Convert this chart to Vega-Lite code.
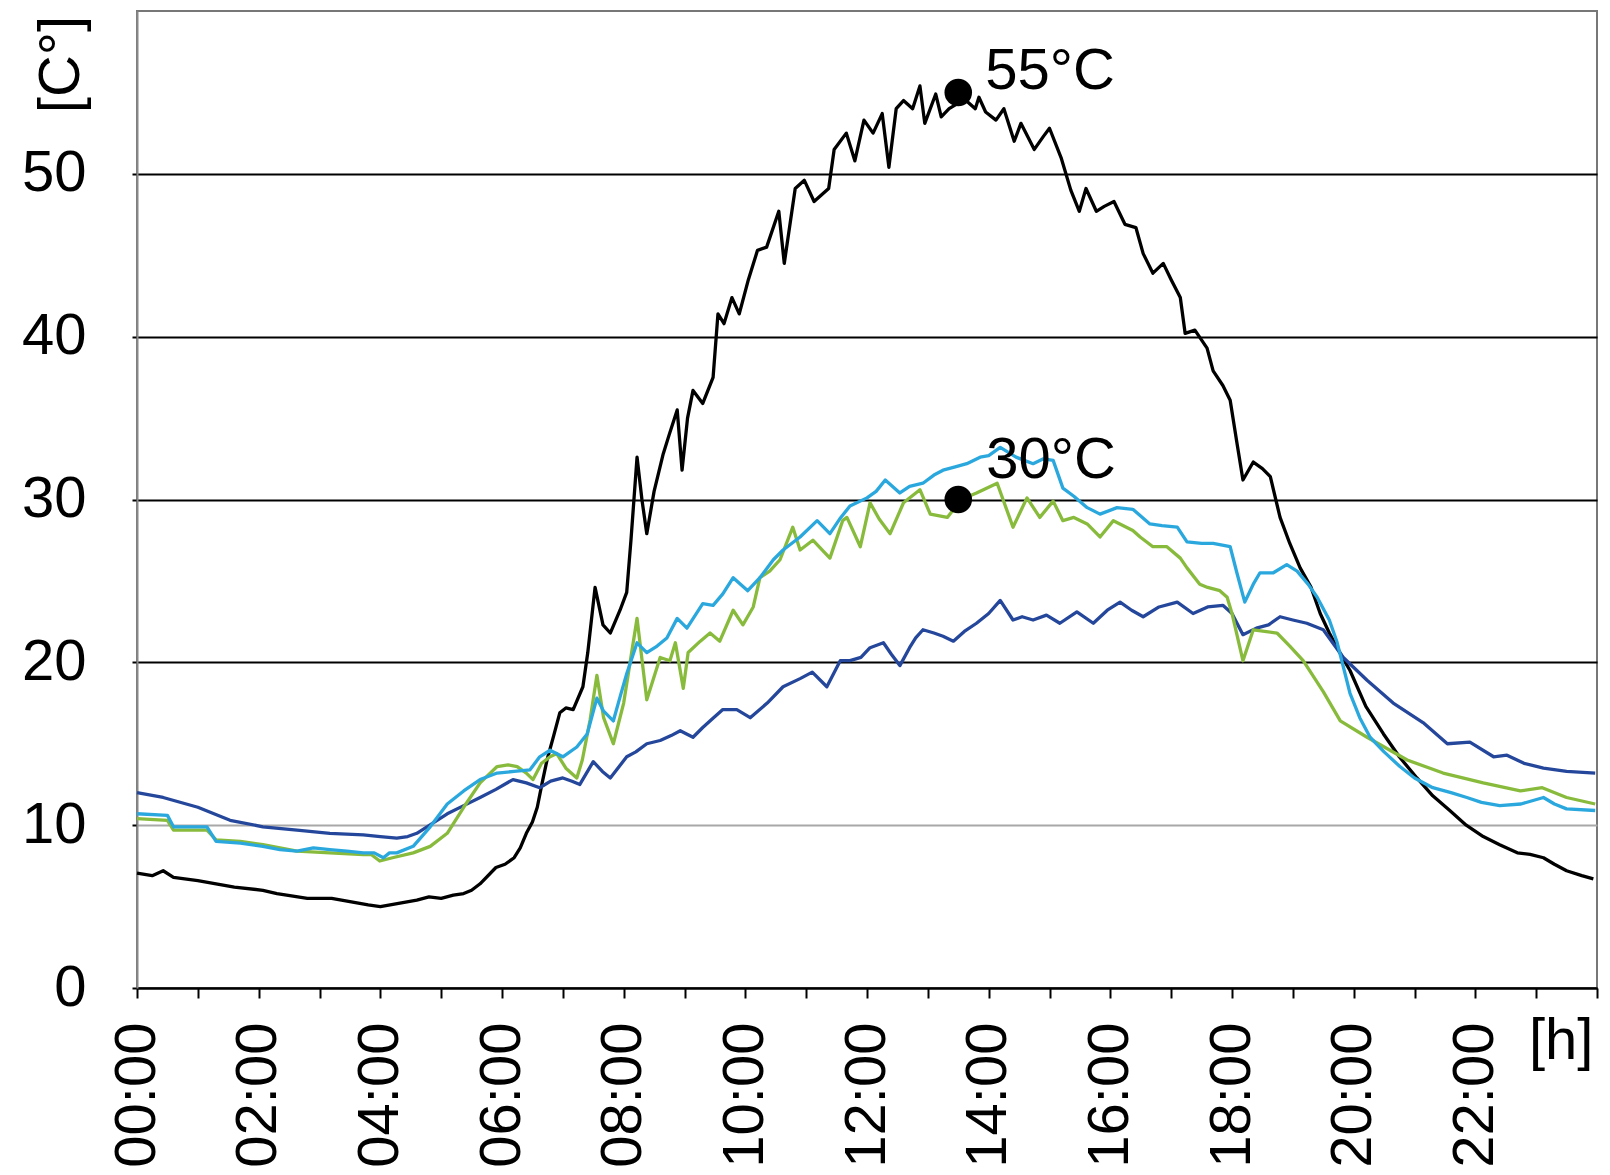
{
  "$schema": "https://vega.github.io/schema/vega-lite/v6.json",
  "width": 1460,
  "height": 977,
  "autosize": {"type": "none"},
  "padding": {"left": 137, "top": 11, "right": 13, "bottom": 187},
  "background": "white",
  "config": {
    "font": "Liberation Sans",
    "view": {"stroke": "#777777", "strokeWidth": 2}
  },
  "datasets": {
    "lines": [
      {"s":"B","h":0,"v":7.05},{"s":"B","h":0.25,"v":6.9},{"s":"B","h":0.43,"v":7.2},{"s":"B","h":0.6,"v":6.8},{"s":"B","h":1,"v":6.6},{"s":"B","h":1.3,"v":6.4},{"s":"B","h":1.6,"v":6.2},{"s":"B","h":2.07,"v":6.0},{"s":"B","h":2.3,"v":5.8},{"s":"B","h":2.46,"v":5.7},{"s":"B","h":2.8,"v":5.5},{"s":"B","h":3.2,"v":5.5},{"s":"B","h":3.5,"v":5.3},{"s":"B","h":3.8,"v":5.1},{"s":"B","h":4.0,"v":5.0},{"s":"B","h":4.3,"v":5.2},{"s":"B","h":4.6,"v":5.4},{"s":"B","h":4.8,"v":5.6},{"s":"B","h":5.0,"v":5.5},{"s":"B","h":5.2,"v":5.7},{"s":"B","h":5.37,"v":5.8},{"s":"B","h":5.5,"v":6.0},{"s":"B","h":5.64,"v":6.4},{"s":"B","h":5.9,"v":7.4},{"s":"B","h":6.05,"v":7.6},{"s":"B","h":6.2,"v":8.0},{"s":"B","h":6.3,"v":8.6},{"s":"B","h":6.4,"v":9.5},{"s":"B","h":6.5,"v":10.2},{"s":"B","h":6.58,"v":11.1},{"s":"B","h":6.66,"v":12.6},{"s":"B","h":6.74,"v":14.0},{"s":"B","h":6.85,"v":15.5},{"s":"B","h":6.95,"v":16.9},{"s":"B","h":7.05,"v":17.2},{"s":"B","h":7.17,"v":17.1},{"s":"B","h":7.33,"v":18.5},{"s":"B","h":7.41,"v":20.6},{"s":"B","h":7.53,"v":24.6},{"s":"B","h":7.66,"v":22.3},{"s":"B","h":7.78,"v":21.8},{"s":"B","h":7.94,"v":23.2},{"s":"B","h":8.05,"v":24.3},{"s":"B","h":8.12,"v":27.5},{"s":"B","h":8.22,"v":32.6},{"s":"B","h":8.3,"v":30.0},{"s":"B","h":8.38,"v":27.9},{"s":"B","h":8.5,"v":30.5},{"s":"B","h":8.65,"v":32.8},{"s":"B","h":8.75,"v":34.0},{"s":"B","h":8.88,"v":35.5},{"s":"B","h":8.96,"v":31.8},{"s":"B","h":9.05,"v":35.0},{"s":"B","h":9.14,"v":36.7},{"s":"B","h":9.3,"v":35.9},{"s":"B","h":9.47,"v":37.5},{"s":"B","h":9.55,"v":41.4},{"s":"B","h":9.65,"v":40.8},{"s":"B","h":9.78,"v":42.4},{"s":"B","h":9.9,"v":41.4},{"s":"B","h":10.05,"v":43.5},{"s":"B","h":10.2,"v":45.3},{"s":"B","h":10.35,"v":45.5},{"s":"B","h":10.55,"v":47.7},{"s":"B","h":10.64,"v":44.5},{"s":"B","h":10.82,"v":49.1},{"s":"B","h":10.97,"v":49.6},{"s":"B","h":11.13,"v":48.3},{"s":"B","h":11.37,"v":49.1},{"s":"B","h":11.46,"v":51.5},{"s":"B","h":11.66,"v":52.5},{"s":"B","h":11.8,"v":50.8},{"s":"B","h":11.95,"v":53.3},{"s":"B","h":12.1,"v":52.5},{"s":"B","h":12.25,"v":53.7},{"s":"B","h":12.36,"v":50.4},{"s":"B","h":12.48,"v":54.0},{"s":"B","h":12.6,"v":54.5},{"s":"B","h":12.75,"v":54.0},{"s":"B","h":12.87,"v":55.4},{"s":"B","h":12.95,"v":53.1},{"s":"B","h":13.13,"v":54.9},{"s":"B","h":13.22,"v":53.5},{"s":"B","h":13.35,"v":54.0},{"s":"B","h":13.48,"v":54.3},{"s":"B","h":13.6,"v":54.6},{"s":"B","h":13.78,"v":54.0},{"s":"B","h":13.84,"v":54.7},{"s":"B","h":13.95,"v":53.8},{"s":"B","h":14.12,"v":53.3},{"s":"B","h":14.25,"v":54.0},{"s":"B","h":14.42,"v":52.0},{"s":"B","h":14.53,"v":53.1},{"s":"B","h":14.75,"v":51.5},{"s":"B","h":14.9,"v":52.3},{"s":"B","h":15.0,"v":52.8},{"s":"B","h":15.19,"v":51.0},{"s":"B","h":15.35,"v":49.0},{"s":"B","h":15.49,"v":47.7},{"s":"B","h":15.6,"v":49.1},{"s":"B","h":15.77,"v":47.7},{"s":"B","h":15.9,"v":48.0},{"s":"B","h":16.06,"v":48.3},{"s":"B","h":16.24,"v":46.9},{"s":"B","h":16.42,"v":46.7},{"s":"B","h":16.54,"v":45.1},{"s":"B","h":16.7,"v":43.9},{"s":"B","h":16.87,"v":44.5},{"s":"B","h":17.0,"v":43.5},{"s":"B","h":17.15,"v":42.4},{"s":"B","h":17.23,"v":40.2},{"s":"B","h":17.39,"v":40.4},{"s":"B","h":17.59,"v":39.3},{"s":"B","h":17.69,"v":37.9},{"s":"B","h":17.85,"v":37.0},{"s":"B","h":17.97,"v":36.1},{"s":"B","h":18.08,"v":33.5},{"s":"B","h":18.18,"v":31.2},{"s":"B","h":18.35,"v":32.3},{"s":"B","h":18.5,"v":31.9},{"s":"B","h":18.63,"v":31.4},{"s":"B","h":18.79,"v":28.9},{"s":"B","h":18.95,"v":27.3},{"s":"B","h":19.12,"v":25.8},{"s":"B","h":19.3,"v":24.6},{"s":"B","h":19.45,"v":23.0},{"s":"B","h":19.6,"v":21.8},{"s":"B","h":19.83,"v":20.2},{"s":"B","h":19.94,"v":19.5},{"s":"B","h":20.2,"v":17.3},{"s":"B","h":20.49,"v":15.6},{"s":"B","h":20.75,"v":14.2},{"s":"B","h":21.04,"v":12.9},{"s":"B","h":21.3,"v":11.8},{"s":"B","h":21.58,"v":10.9},{"s":"B","h":21.85,"v":10.0},{"s":"B","h":22.13,"v":9.3},{"s":"B","h":22.4,"v":8.8},{"s":"B","h":22.69,"v":8.3},{"s":"B","h":22.9,"v":8.2},{"s":"B","h":23.12,"v":8.0},{"s":"B","h":23.3,"v":7.6},{"s":"B","h":23.5,"v":7.2},{"s":"B","h":23.75,"v":6.9},{"s":"B","h":23.94,"v":6.7},
      {"s":"N","h":0,"v":12.0},{"s":"N","h":0.43,"v":11.7},{"s":"N","h":1,"v":11.1},{"s":"N","h":1.53,"v":10.3},{"s":"N","h":2.07,"v":9.9},{"s":"N","h":2.63,"v":9.7},{"s":"N","h":3.17,"v":9.5},{"s":"N","h":3.72,"v":9.4},{"s":"N","h":4.0,"v":9.3},{"s":"N","h":4.27,"v":9.2},{"s":"N","h":4.45,"v":9.3},{"s":"N","h":4.6,"v":9.5},{"s":"N","h":4.85,"v":10.1},{"s":"N","h":5.1,"v":10.7},{"s":"N","h":5.37,"v":11.2},{"s":"N","h":5.64,"v":11.7},{"s":"N","h":5.9,"v":12.2},{"s":"N","h":6.18,"v":12.8},{"s":"N","h":6.4,"v":12.6},{"s":"N","h":6.62,"v":12.3},{"s":"N","h":6.8,"v":12.7},{"s":"N","h":7.0,"v":12.9},{"s":"N","h":7.15,"v":12.7},{"s":"N","h":7.28,"v":12.5},{"s":"N","h":7.5,"v":13.9},{"s":"N","h":7.65,"v":13.3},{"s":"N","h":7.78,"v":12.9},{"s":"N","h":8.05,"v":14.2},{"s":"N","h":8.2,"v":14.5},{"s":"N","h":8.38,"v":15.0},{"s":"N","h":8.6,"v":15.2},{"s":"N","h":8.78,"v":15.5},{"s":"N","h":8.93,"v":15.8},{"s":"N","h":9.14,"v":15.4},{"s":"N","h":9.3,"v":16.0},{"s":"N","h":9.45,"v":16.5},{"s":"N","h":9.63,"v":17.1},{"s":"N","h":9.86,"v":17.1},{"s":"N","h":10.08,"v":16.6},{"s":"N","h":10.36,"v":17.5},{"s":"N","h":10.62,"v":18.5},{"s":"N","h":10.9,"v":19.0},{"s":"N","h":11.1,"v":19.4},{"s":"N","h":11.34,"v":18.5},{"s":"N","h":11.56,"v":20.1},{"s":"N","h":11.72,"v":20.1},{"s":"N","h":11.9,"v":20.3},{"s":"N","h":12.05,"v":20.9},{"s":"N","h":12.27,"v":21.2},{"s":"N","h":12.4,"v":20.5},{"s":"N","h":12.54,"v":19.8},{"s":"N","h":12.7,"v":20.9},{"s":"N","h":12.8,"v":21.5},{"s":"N","h":12.92,"v":22.0},{"s":"N","h":13.1,"v":21.8},{"s":"N","h":13.25,"v":21.6},{"s":"N","h":13.42,"v":21.3},{"s":"N","h":13.6,"v":21.9},{"s":"N","h":13.8,"v":22.4},{"s":"N","h":14.0,"v":23.0},{"s":"N","h":14.19,"v":23.8},{"s":"N","h":14.4,"v":22.6},{"s":"N","h":14.55,"v":22.8},{"s":"N","h":14.73,"v":22.6},{"s":"N","h":14.95,"v":22.9},{"s":"N","h":15.17,"v":22.4},{"s":"N","h":15.45,"v":23.1},{"s":"N","h":15.72,"v":22.4},{"s":"N","h":15.95,"v":23.2},{"s":"N","h":16.16,"v":23.7},{"s":"N","h":16.35,"v":23.2},{"s":"N","h":16.54,"v":22.8},{"s":"N","h":16.8,"v":23.4},{"s":"N","h":17.1,"v":23.7},{"s":"N","h":17.36,"v":23.0},{"s":"N","h":17.6,"v":23.4},{"s":"N","h":17.85,"v":23.5},{"s":"N","h":18.0,"v":23.0},{"s":"N","h":18.18,"v":21.7},{"s":"N","h":18.4,"v":22.1},{"s":"N","h":18.6,"v":22.3},{"s":"N","h":18.79,"v":22.8},{"s":"N","h":19.0,"v":22.6},{"s":"N","h":19.23,"v":22.4},{"s":"N","h":19.5,"v":22.0},{"s":"N","h":19.83,"v":20.3},{"s":"N","h":20.22,"v":18.9},{"s":"N","h":20.65,"v":17.5},{"s":"N","h":21.14,"v":16.3},{"s":"N","h":21.54,"v":15.0},{"s":"N","h":21.91,"v":15.1},{"s":"N","h":22.3,"v":14.2},{"s":"N","h":22.52,"v":14.3},{"s":"N","h":22.8,"v":13.8},{"s":"N","h":23.12,"v":13.5},{"s":"N","h":23.5,"v":13.3},{"s":"N","h":23.97,"v":13.2},
      {"s":"G","h":0,"v":10.4},{"s":"G","h":0.5,"v":10.3},{"s":"G","h":0.6,"v":9.7},{"s":"G","h":1.15,"v":9.7},{"s":"G","h":1.3,"v":9.1},{"s":"G","h":1.7,"v":9.0},{"s":"G","h":2.07,"v":8.8},{"s":"G","h":2.63,"v":8.4},{"s":"G","h":3.17,"v":8.3},{"s":"G","h":3.72,"v":8.2},{"s":"G","h":3.85,"v":8.2},{"s":"G","h":3.99,"v":7.8},{"s":"G","h":4.2,"v":8.0},{"s":"G","h":4.54,"v":8.3},{"s":"G","h":4.82,"v":8.7},{"s":"G","h":5.1,"v":9.5},{"s":"G","h":5.37,"v":11.1},{"s":"G","h":5.64,"v":12.6},{"s":"G","h":5.92,"v":13.6},{"s":"G","h":6.1,"v":13.7},{"s":"G","h":6.25,"v":13.6},{"s":"G","h":6.4,"v":13.2},{"s":"G","h":6.51,"v":12.8},{"s":"G","h":6.65,"v":13.8},{"s":"G","h":6.79,"v":14.2},{"s":"G","h":6.9,"v":14.4},{"s":"G","h":7.05,"v":13.5},{"s":"G","h":7.23,"v":12.9},{"s":"G","h":7.32,"v":14.0},{"s":"G","h":7.45,"v":16.5},{"s":"G","h":7.56,"v":19.2},{"s":"G","h":7.67,"v":16.6},{"s":"G","h":7.83,"v":15.0},{"s":"G","h":8.0,"v":17.5},{"s":"G","h":8.22,"v":22.7},{"s":"G","h":8.38,"v":17.7},{"s":"G","h":8.6,"v":20.3},{"s":"G","h":8.76,"v":20.1},{"s":"G","h":8.85,"v":21.2},{"s":"G","h":8.98,"v":18.4},{"s":"G","h":9.06,"v":20.6},{"s":"G","h":9.26,"v":21.3},{"s":"G","h":9.42,"v":21.8},{"s":"G","h":9.58,"v":21.3},{"s":"G","h":9.8,"v":23.2},{"s":"G","h":9.96,"v":22.3},{"s":"G","h":10.13,"v":23.4},{"s":"G","h":10.24,"v":25.2},{"s":"G","h":10.4,"v":25.6},{"s":"G","h":10.57,"v":26.3},{"s":"G","h":10.78,"v":28.3},{"s":"G","h":10.9,"v":26.9},{"s":"G","h":11.11,"v":27.5},{"s":"G","h":11.39,"v":26.4},{"s":"G","h":11.6,"v":28.7},{"s":"G","h":11.67,"v":28.9},{"s":"G","h":11.89,"v":27.1},{"s":"G","h":12.05,"v":29.8},{"s":"G","h":12.2,"v":28.8},{"s":"G","h":12.38,"v":27.9},{"s":"G","h":12.6,"v":29.8},{"s":"G","h":12.87,"v":30.6},{"s":"G","h":13.04,"v":29.1},{"s":"G","h":13.32,"v":28.9},{"s":"G","h":13.55,"v":30.0},{"s":"G","h":13.8,"v":30.4},{"s":"G","h":14.14,"v":31.0},{"s":"G","h":14.4,"v":28.3},{"s":"G","h":14.63,"v":30.1},{"s":"G","h":14.84,"v":28.9},{"s":"G","h":15.06,"v":29.9},{"s":"G","h":15.22,"v":28.7},{"s":"G","h":15.4,"v":28.9},{"s":"G","h":15.62,"v":28.5},{"s":"G","h":15.83,"v":27.7},{"s":"G","h":16.05,"v":28.7},{"s":"G","h":16.37,"v":28.1},{"s":"G","h":16.49,"v":27.7},{"s":"G","h":16.7,"v":27.1},{"s":"G","h":16.93,"v":27.1},{"s":"G","h":17.15,"v":26.4},{"s":"G","h":17.26,"v":25.8},{"s":"G","h":17.47,"v":24.8},{"s":"G","h":17.6,"v":24.6},{"s":"G","h":17.8,"v":24.4},{"s":"G","h":17.92,"v":24.0},{"s":"G","h":18.0,"v":23.0},{"s":"G","h":18.18,"v":20.1},{"s":"G","h":18.35,"v":22.0},{"s":"G","h":18.74,"v":21.8},{"s":"G","h":18.95,"v":21.0},{"s":"G","h":19.17,"v":20.1},{"s":"G","h":19.5,"v":18.2},{"s":"G","h":19.78,"v":16.4},{"s":"G","h":20.22,"v":15.4},{"s":"G","h":20.88,"v":14.0},{"s":"G","h":21.47,"v":13.2},{"s":"G","h":22.13,"v":12.6},{"s":"G","h":22.74,"v":12.1},{"s":"G","h":23.1,"v":12.3},{"s":"G","h":23.5,"v":11.7},{"s":"G","h":23.97,"v":11.3},
      {"s":"L","h":0,"v":10.7},{"s":"L","h":0.5,"v":10.6},{"s":"L","h":0.6,"v":9.9},{"s":"L","h":1.15,"v":9.9},{"s":"L","h":1.3,"v":9.0},{"s":"L","h":1.7,"v":8.9},{"s":"L","h":2.07,"v":8.7},{"s":"L","h":2.35,"v":8.5},{"s":"L","h":2.63,"v":8.4},{"s":"L","h":2.9,"v":8.6},{"s":"L","h":3.17,"v":8.5},{"s":"L","h":3.45,"v":8.4},{"s":"L","h":3.72,"v":8.3},{"s":"L","h":3.9,"v":8.3},{"s":"L","h":4.05,"v":8.0},{"s":"L","h":4.15,"v":8.3},{"s":"L","h":4.27,"v":8.3},{"s":"L","h":4.54,"v":8.7},{"s":"L","h":4.82,"v":9.9},{"s":"L","h":5.1,"v":11.3},{"s":"L","h":5.37,"v":12.1},{"s":"L","h":5.64,"v":12.8},{"s":"L","h":5.92,"v":13.2},{"s":"L","h":6.2,"v":13.3},{"s":"L","h":6.46,"v":13.4},{"s":"L","h":6.62,"v":14.2},{"s":"L","h":6.79,"v":14.6},{"s":"L","h":7.0,"v":14.2},{"s":"L","h":7.23,"v":14.8},{"s":"L","h":7.4,"v":15.6},{"s":"L","h":7.56,"v":17.8},{"s":"L","h":7.67,"v":17.0},{"s":"L","h":7.83,"v":16.4},{"s":"L","h":7.95,"v":18.0},{"s":"L","h":8.05,"v":19.3},{"s":"L","h":8.22,"v":21.2},{"s":"L","h":8.38,"v":20.6},{"s":"L","h":8.55,"v":21.0},{"s":"L","h":8.71,"v":21.5},{"s":"L","h":8.88,"v":22.7},{"s":"L","h":9.04,"v":22.1},{"s":"L","h":9.3,"v":23.6},{"s":"L","h":9.47,"v":23.5},{"s":"L","h":9.63,"v":24.2},{"s":"L","h":9.8,"v":25.2},{"s":"L","h":10.04,"v":24.4},{"s":"L","h":10.24,"v":25.2},{"s":"L","h":10.46,"v":26.3},{"s":"L","h":10.62,"v":26.9},{"s":"L","h":10.9,"v":27.7},{"s":"L","h":11.18,"v":28.7},{"s":"L","h":11.39,"v":27.9},{"s":"L","h":11.55,"v":28.8},{"s":"L","h":11.72,"v":29.6},{"s":"L","h":12.0,"v":30.1},{"s":"L","h":12.15,"v":30.5},{"s":"L","h":12.3,"v":31.2},{"s":"L","h":12.54,"v":30.4},{"s":"L","h":12.7,"v":30.8},{"s":"L","h":12.92,"v":31.0},{"s":"L","h":13.1,"v":31.5},{"s":"L","h":13.25,"v":31.8},{"s":"L","h":13.45,"v":32.0},{"s":"L","h":13.64,"v":32.2},{"s":"L","h":13.86,"v":32.6},{"s":"L","h":14.0,"v":32.7},{"s":"L","h":14.19,"v":33.2},{"s":"L","h":14.45,"v":32.6},{"s":"L","h":14.73,"v":32.2},{"s":"L","h":14.9,"v":32.5},{"s":"L","h":15.06,"v":32.4},{"s":"L","h":15.22,"v":30.7},{"s":"L","h":15.4,"v":30.2},{"s":"L","h":15.62,"v":29.5},{"s":"L","h":15.83,"v":29.1},{"s":"L","h":16.11,"v":29.5},{"s":"L","h":16.37,"v":29.4},{"s":"L","h":16.65,"v":28.5},{"s":"L","h":16.85,"v":28.4},{"s":"L","h":17.1,"v":28.3},{"s":"L","h":17.26,"v":27.4},{"s":"L","h":17.5,"v":27.3},{"s":"L","h":17.69,"v":27.3},{"s":"L","h":17.97,"v":27.1},{"s":"L","h":18.08,"v":25.5},{"s":"L","h":18.21,"v":23.7},{"s":"L","h":18.35,"v":24.8},{"s":"L","h":18.46,"v":25.5},{"s":"L","h":18.68,"v":25.5},{"s":"L","h":18.9,"v":26.0},{"s":"L","h":19.07,"v":25.6},{"s":"L","h":19.25,"v":24.8},{"s":"L","h":19.4,"v":24.0},{"s":"L","h":19.6,"v":22.6},{"s":"L","h":19.73,"v":21.2},{"s":"L","h":19.94,"v":18.1},{"s":"L","h":20.1,"v":16.6},{"s":"L","h":20.27,"v":15.4},{"s":"L","h":20.5,"v":14.5},{"s":"L","h":20.76,"v":13.6},{"s":"L","h":21.0,"v":12.9},{"s":"L","h":21.3,"v":12.3},{"s":"L","h":21.6,"v":12.0},{"s":"L","h":21.86,"v":11.7},{"s":"L","h":22.1,"v":11.4},{"s":"L","h":22.4,"v":11.2},{"s":"L","h":22.75,"v":11.3},{"s":"L","h":23.12,"v":11.7},{"s":"L","h":23.3,"v":11.3},{"s":"L","h":23.5,"v":11.0},{"s":"L","h":23.97,"v":10.9}
    ],
    "peaks": [
      {"h": 13.5, "v": 55, "label": "55°C"},
      {"h": 13.5, "v": 30, "label": "30°C"}
    ]
  },
  "layer": [
    {
      "data": {"name": "lines"},
      "mark": {"type": "line", "strokeWidth": 3.3, "strokeJoin": "round"},
      "encoding": {
        "x": {
          "field": "h", "type": "quantitative",
          "scale": {"domain": [0, 24], "nice": false, "zero": false},
          "axis": {
            "values": [0,1,2,3,4,5,6,7,8,9,10,11,12,13,14,15,16,17,18,19,20,21,22,23,24],
            "labelExpr": "datum.value % 2 == 0 && datum.value < 24 ? (datum.value < 10 ? '0' : '') + datum.value + ':00' : ''",
            "labelAngle": -90,
            "labelAlign": "right",
            "labelBaseline": "middle",
            "labelFontSize": 58,
            "labelColor": "#000000",
            "labelPadding": 24,
            "labelOverlap": false,
            "labelFlush": false,
            "labelBound": false,
            "tickSize": 10,
            "tickWidth": 2,
            "tickColor": "#000000",
            "domainColor": "#000000",
            "domainWidth": 2,
            "grid": false,
            "title": "[h]",
            "titleFontSize": 58,
            "titleFontWeight": "normal",
            "titleColor": "#000000",
            "titleAlign": "right",
            "titleBaseline": "top",
            "titleAnchor": "end",
            "titleX": 1456,
            "titleY": 24
          }
        },
        "y": {
          "field": "v", "type": "quantitative",
          "scale": {"domain": [0, 60], "nice": false},
          "axis": {
            "values": [0, 10, 20, 30, 40, 50],
            "labelFontSize": 58,
            "labelColor": "#000000",
            "labelPadding": 46,
            "tickSize": 5,
            "tickWidth": 2,
            "tickColor": "#000000",
            "domainColor": "#888888",
            "domainWidth": 2,
            "grid": true,
            "gridColor": {"condition": {"test": "datum.value == 10", "value": "#a8a8a8"}, "value": "#000000"},
            "gridWidth": 2,
            "title": "[C°]",
            "titleFontSize": 58,
            "titleFontWeight": "normal",
            "titleColor": "#000000",
            "titleAngle": -90,
            "titleAlign": "center",
            "titleBaseline": "middle",
            "titleX": -76,
            "titleY": 53
          }
        },
        "color": {
          "field": "s", "type": "nominal",
          "scale": {"domain": ["B", "N", "G", "L"], "range": ["#000000", "#25479b", "#88bb3c", "#2aa8de"]},
          "legend": null
        }
      }
    },
    {
      "data": {"name": "peaks"},
      "mark": {"type": "circle", "size": 760, "color": "#000000", "opacity": 1},
      "encoding": {
        "x": {"field": "h", "type": "quantitative"},
        "y": {"field": "v", "type": "quantitative"}
      }
    },
    {
      "data": {"name": "peaks"},
      "transform": [{"filter": "datum.v == 55"}],
      "mark": {"type": "text", "align": "left", "baseline": "middle", "fontSize": 58, "color": "#000000", "dx": 27, "dy": -20},
      "encoding": {
        "x": {"field": "h", "type": "quantitative"},
        "y": {"field": "v", "type": "quantitative"},
        "text": {"field": "label"}
      }
    },
    {
      "data": {"name": "peaks"},
      "transform": [{"filter": "datum.v == 30"}],
      "mark": {"type": "text", "align": "left", "baseline": "middle", "fontSize": 58, "color": "#000000", "dx": 28, "dy": -39},
      "encoding": {
        "x": {"field": "h", "type": "quantitative"},
        "y": {"field": "v", "type": "quantitative"},
        "text": {"field": "label"}
      }
    }
  ]
}
